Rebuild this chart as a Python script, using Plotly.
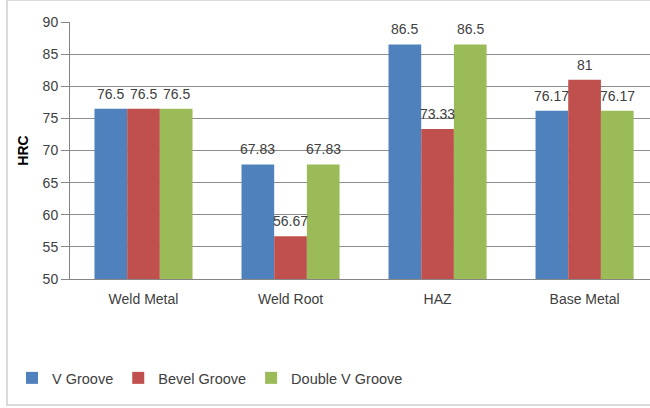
import plotly.graph_objects as go

categories = ["Weld Metal", "Weld Root", "HAZ", "Base Metal"]
v_groove = [76.5, 67.83, 86.5, 76.17]
bevel_groove = [76.5, 56.67, 73.33, 81]
double_v_groove = [76.5, 67.83, 86.5, 76.17]
series_names = ["V Groove", "Bevel Groove", "Double V Groove"]
colors = ["#4F81BD", "#C0504D", "#9BBB59"]
y_ticks = [50, 55, 60, 65, 70, 75, 80, 85, 90]

FONT = "Liberation Sans"
TXT = "#404040"

PLOT_W = 580
X_RANGE = [-0.5, 3.445]
BARGAP = 0.333
cat_px = PLOT_W / (X_RANGE[1] - X_RANGE[0])
bar_px = cat_px * (1 - BARGAP) / 3

fig = go.Figure()
annotations = []
series = [v_groove, bevel_groove, double_v_groove]
for i, (name, vals, col) in enumerate(zip(series_names, series, colors)):
    fig.add_trace(go.Bar(
        x=categories, y=vals, name=name, marker=dict(color=col, line=dict(width=0)),
    ))
    for c, v in zip(categories, vals):
        annotations.append(dict(
            x=c, y=v, xref="x", yref="y", text=f"{v:g}", showarrow=False,
            xshift=(i - 1) * bar_px, yshift=15, yanchor="middle",
            font=dict(family=FONT, size=14, color=TXT),
        ))

fig.update_layout(
    width=650, height=408,
    margin=dict(l=70, r=0, t=22, b=129),
    paper_bgcolor="white", plot_bgcolor="white",
    barmode="group", bargap=BARGAP, bargroupgap=0,
    font=dict(family=FONT, size=14, color=TXT),
    showlegend=True,
    legend=dict(orientation="h", x=-0.1, xanchor="left", y=-0.385, yanchor="middle",
                font=dict(family=FONT, size=14.5, color=TXT), itemwidth=30,
                bgcolor="rgba(0,0,0,0)"),
    xaxis=dict(range=X_RANGE, showgrid=False, showline=True, linecolor="#868686",
               linewidth=1, ticks="", ticklabelstandoff=7,
               tickfont=dict(family=FONT, size=14, color=TXT)),
    yaxis=dict(range=[50, 90], tickvals=y_ticks, showgrid=True, gridcolor="#8C8C8C",
               gridwidth=1, showline=True, linecolor="#868686", linewidth=1,
               ticks="outside", ticklen=8, tickcolor="#868686",
               tickfont=dict(family=FONT, size=14, color=TXT),
               title=dict(text="<b>HRC</b>", font=dict(family=FONT, size=14, color="#000000"),
                          standoff=10)),
    annotations=annotations,
    shapes=[dict(type="rect", xref="paper", yref="paper",
                 x0=-63 / PLOT_W, x1=1.05, y0=-126 / 257, y1=22 / 257 + 1.0,
                 line=dict(color="#D0D0D0", width=1.5), fillcolor="rgba(0,0,0,0)", layer="below")],
)

fig.write_html("out.html")
